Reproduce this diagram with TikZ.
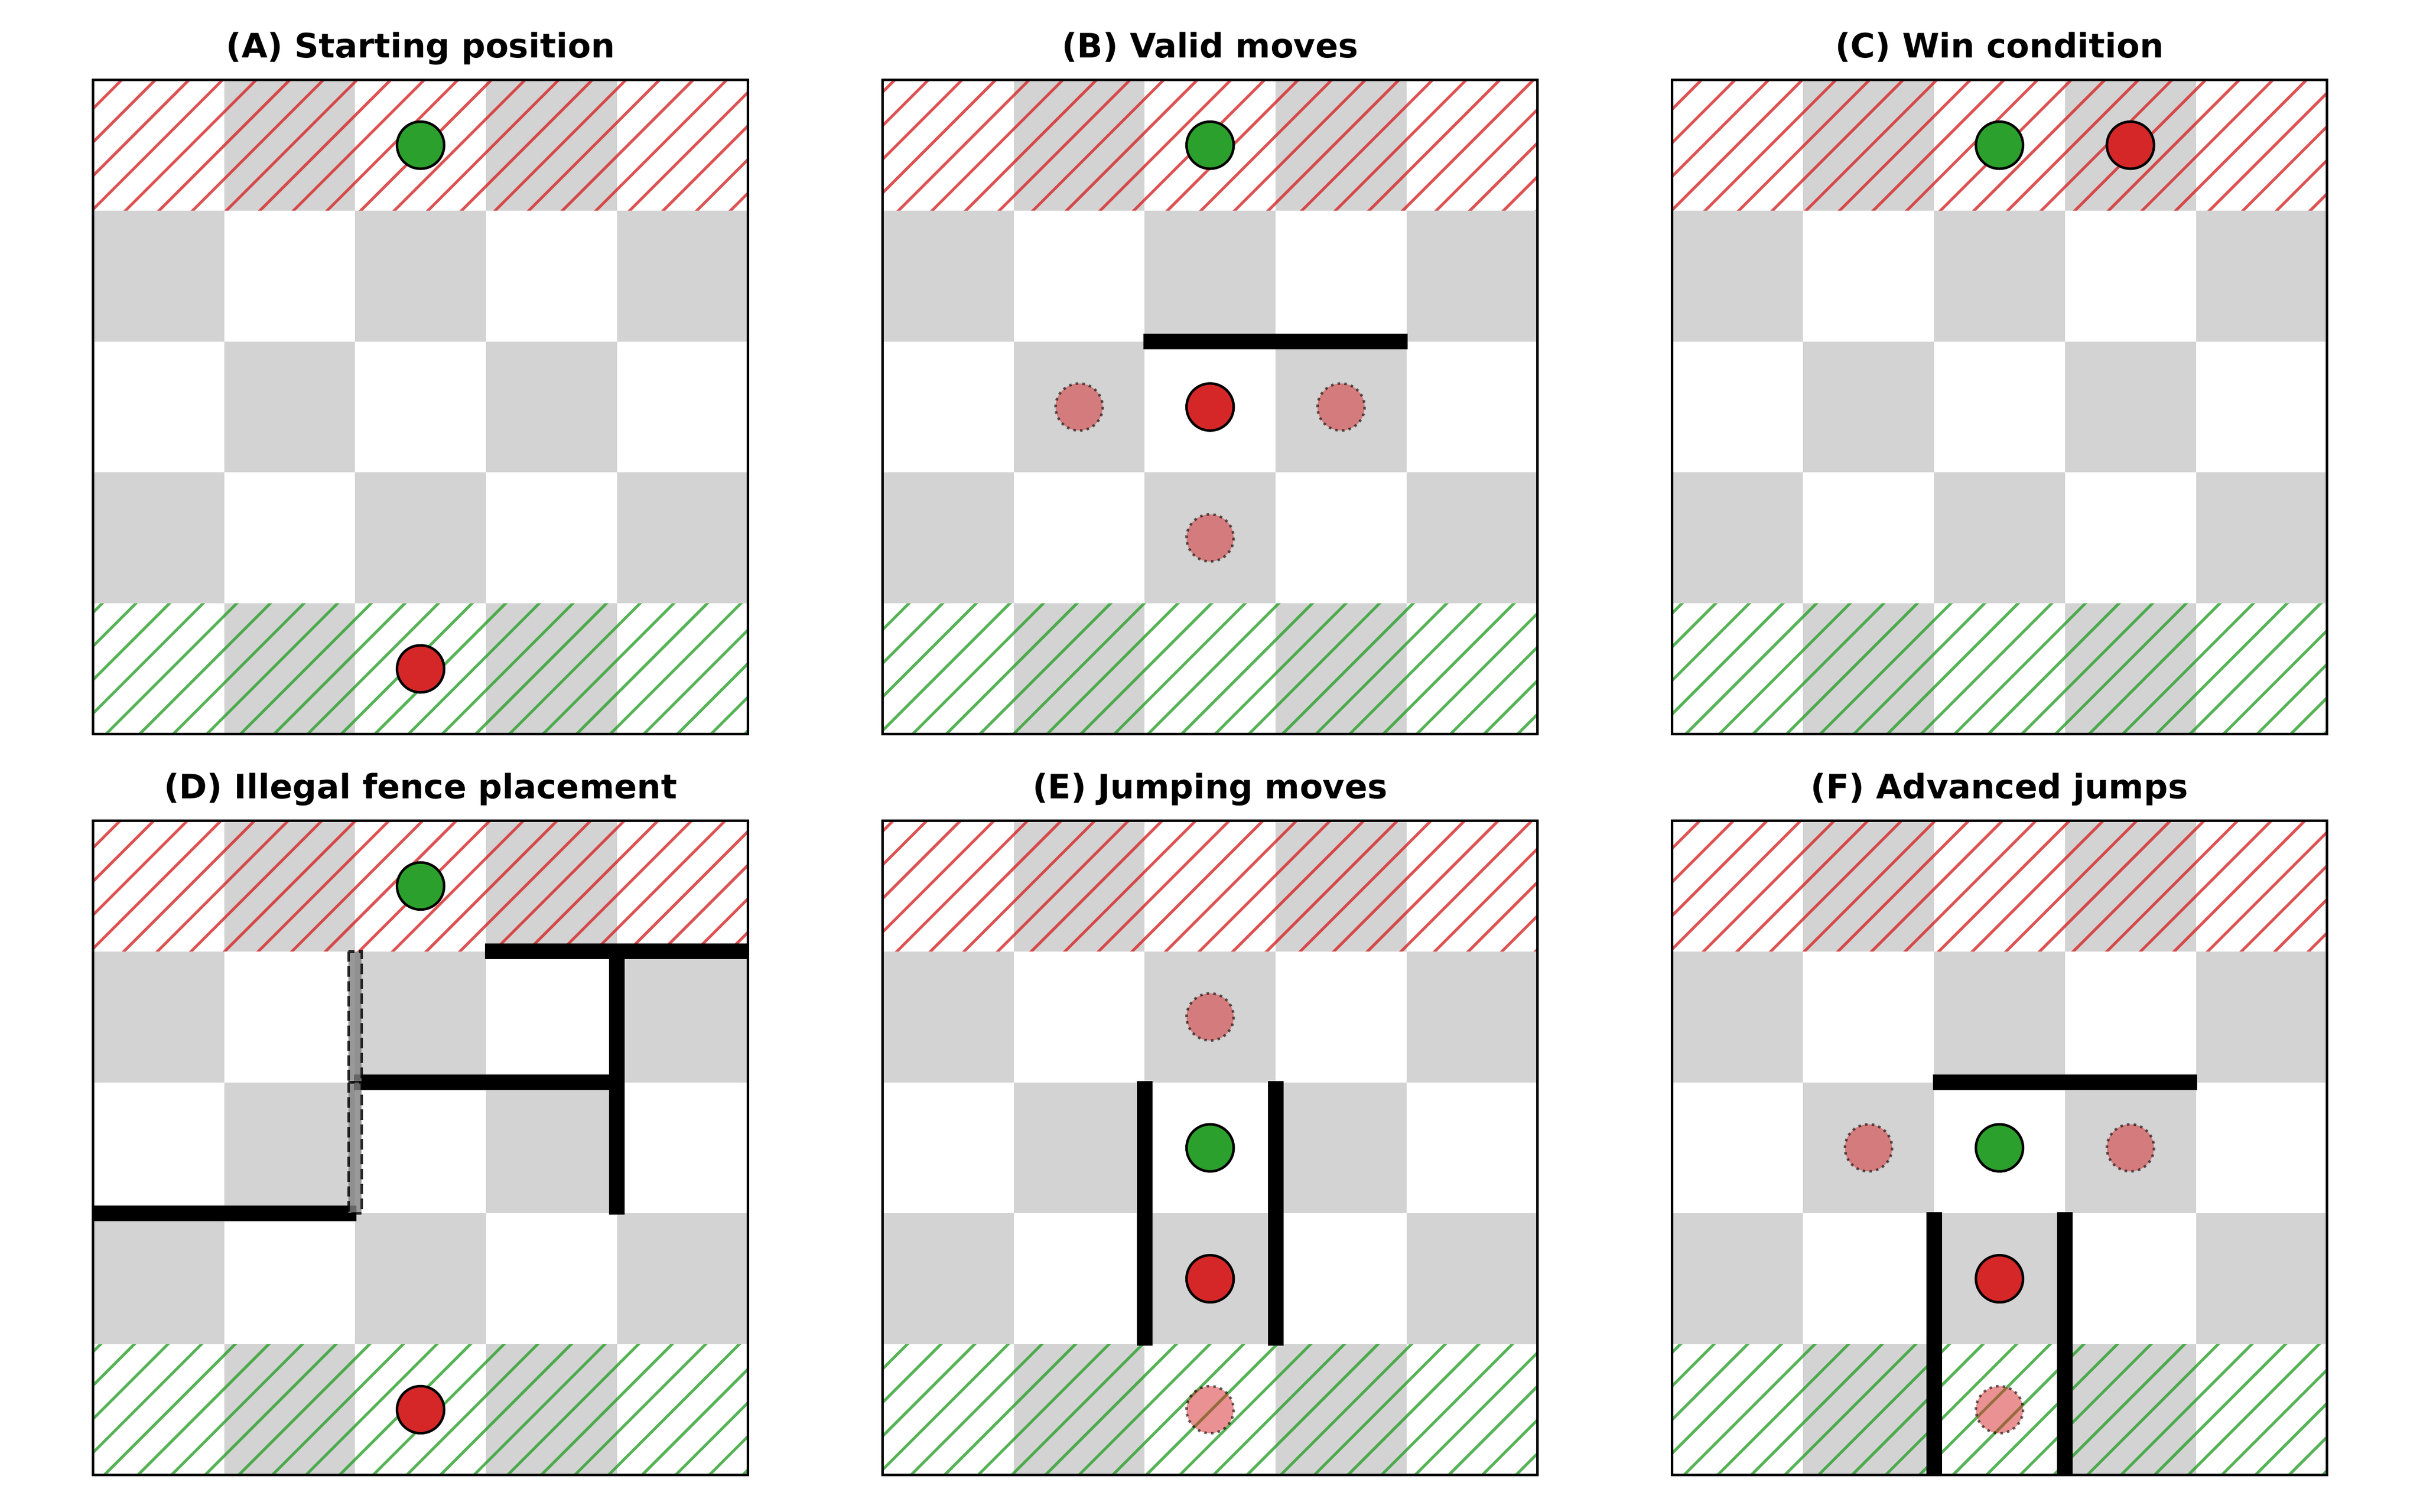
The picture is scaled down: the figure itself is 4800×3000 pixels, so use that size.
\documentclass[tikz,border=0pt]{standalone}
\usepackage{fontspec}
\setmainfont{DejaVu Sans}
\definecolor{tabred}{HTML}{D62728}
\definecolor{tabgreen}{HTML}{2CA02C}
\definecolor{cellgray}{HTML}{D3D3D3}
\definecolor{illgray}{HTML}{808080}
\tikzset{
  boardframe/.style={draw=black, line width=0.9pt},
  hatchred/.style={draw=tabred, draw opacity=0.8, line width=1pt},
  hatchgreen/.style={draw=tabgreen, draw opacity=0.8, line width=1pt},
  fencebox/.style={fill=black, draw=black, line width=0.9pt},
  illegalbox/.style={fill=illgray, fill opacity=0.8, draw=black, draw opacity=0.8, line width=1pt, dash pattern=on 3.7pt off 1.6pt},
  greenpiece/.style={fill=tabgreen, draw=black, line width=0.9pt},
  redpiece/.style={fill=tabred, draw=black, line width=0.9pt},
  ghostpiece/.style={fill=tabred, fill opacity=0.5, draw=black, draw opacity=0.6, line width=0.9pt, dash pattern=on 0.9pt off 1.5pt},
  paneltitle/.style={font=\bfseries\fontsize{12}{14}\selectfont, anchor=base, inner sep=0pt},
}
% #1 style, #2 column, #3 row
\newcommand\placepiece[3]{\filldraw[#1] (#2+0.5,#3+0.5) circle[radius=0.18];}
\newcommand\hfence[2]{\filldraw[fencebox] (#1,#2-0.05) rectangle (#1+1,#2+0.05);}
\newcommand\vfence[2]{\filldraw[fencebox] (#1-0.05,#2) rectangle (#1+0.05,#2+1);}
\newcommand\illfence[2]{\filldraw[illegalbox] (#1-0.05,#2) rectangle (#1+0.05,#2+1);}
% #1 x0, #2 y0 (pixels), #3 title, #4 node name, #5 contents
\newcommand\board[5]{%
  \node[paneltitle] (#4) at (#1+649.35,#2-44) {#3};
  \begin{scope}[shift={(#1,#2)}, x=46.753pt, y=-46.753pt]
    \foreach \r in {0,...,4}{\foreach \c in {0,...,4}{%
      \pgfmathtruncatemacro\cellpar{mod(\r+\c,2)}%
      \ifnum\cellpar=1 \fill[cellgray] (\c,\r) rectangle ++(1,1);\fi}}
    \pgfmathsetmacro\ph{mod(#1+#2,66.6667)/259.74}
    \begin{scope}
      \clip (0,0) rectangle (5,1);
      \foreach \k in {0,...,27}{\draw[hatchred] ({-\ph+0.256668*\k+0.1},-0.1) -- ++(-1.2,1.2);}
    \end{scope}
    \begin{scope}
      \clip (0,4) rectangle (5,5);
      \foreach \k in {14,...,42}{\draw[hatchgreen] ({-\ph+0.256668*\k-4+0.1},3.9) -- ++(-1.2,1.2);}
    \end{scope}
    #5
    \draw[boardframe] (0,0) rectangle (5,5);
  \end{scope}}
\begin{document}
\begin{tikzpicture}[x=0.18pt, y=-0.18pt]
\useasboundingbox (0,0) rectangle (4800,3000);
\fill[white] (0,0) rectangle (4800,3000);
\board{184.8}{158.2}{(A) Starting position}{ta}{%
  \placepiece{greenpiece}{2}{0}
  \placepiece{redpiece}{2}{4}}
\board{1750.8}{158.2}{(B) Valid moves}{tb}{%
  \hfence{2}{2}\hfence{3}{2}
  \placepiece{ghostpiece}{1}{2}
  \placepiece{ghostpiece}{3}{2}
  \placepiece{ghostpiece}{2}{3}
  \placepiece{greenpiece}{2}{0}
  \placepiece{redpiece}{2}{2}}
\board{3316.5}{158.2}{(C) Win condition}{tc}{%
  \placepiece{greenpiece}{2}{0}
  \placepiece{redpiece}{3}{0}}
\board{184.8}{1628.1}{(D) Illegal fence placement}{td}{%
  \hfence{3}{1}\hfence{4}{1}
  \vfence{4}{1}\vfence{4}{2}
  \hfence{2}{2}\hfence{3}{2}
  \hfence{0}{3}\hfence{1}{3}
  \illfence{2}{1}\illfence{2}{2}
  \placepiece{greenpiece}{2}{0}
  \placepiece{redpiece}{2}{4}}
\board{1750.8}{1628.1}{(E) Jumping moves}{te}{%
  \vfence{2}{2}\vfence{2}{3}
  \vfence{3}{2}\vfence{3}{3}
  \placepiece{ghostpiece}{2}{1}
  \placepiece{ghostpiece}{2}{4}
  \placepiece{greenpiece}{2}{2}
  \placepiece{redpiece}{2}{3}}
\board{3316.5}{1628.1}{(F) Advanced jumps}{tf}{%
  \hfence{2}{2}\hfence{3}{2}
  \vfence{2}{3}\vfence{2}{4}
  \vfence{3}{3}\vfence{3}{4}
  \placepiece{ghostpiece}{1}{2}
  \placepiece{ghostpiece}{3}{2}
  \placepiece{ghostpiece}{2}{4}
  \placepiece{greenpiece}{2}{2}
  \placepiece{redpiece}{2}{3}}
\end{tikzpicture}
\end{document}
